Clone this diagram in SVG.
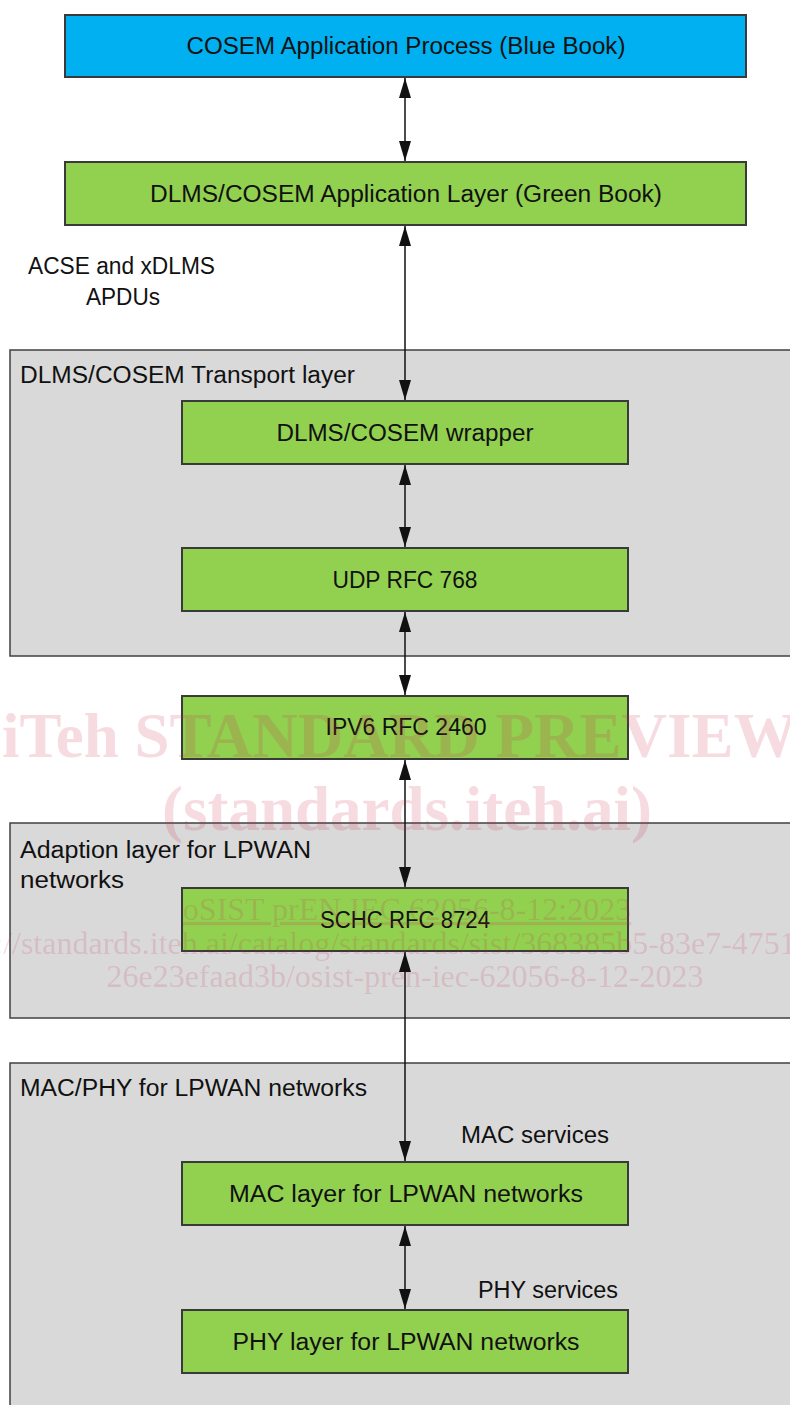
<svg xmlns="http://www.w3.org/2000/svg" width="790" height="1405" viewBox="0 0 790 1405">
<style>
.t{font-family:"Liberation Sans",Arial,sans-serif;font-size:23px;fill:#111}
.c{text-anchor:middle}
.blue{fill:#00B0F0;stroke:#3a3a3a;stroke-width:2}
.green{fill:#92D050;stroke:#3a3a3a;stroke-width:2}
.grey{fill:#D9D9D9;stroke:#404040;stroke-width:1.5}
.conn{stroke:#111;stroke-width:1.5;fill:none;marker-start:url(#ah);marker-end:url(#ah)}
.wm{font-family:"Liberation Serif","Times New Roman",serif;fill:#C82850;fill-opacity:0.17}
.wmb{font-weight:bold;font-size:63px}
.wms{font-size:32px}
</style>
<defs>
<marker id="ah" markerUnits="userSpaceOnUse" markerWidth="20" markerHeight="12" refX="20" refY="6" orient="auto-start-reverse">
<path d="M0,0 L20,6 L0,12 z" fill="#111"/>
</marker>
</defs>
<rect width="790" height="1405" fill="#fff"/>

<g id="transport-group">
<rect class="grey" x="10" y="350" width="800" height="306"/>
<text class="t" x="20" y="383" textLength="335" lengthAdjust="spacingAndGlyphs">DLMS/COSEM Transport layer</text>
</g>
<g id="adaption-group">
<rect class="grey" x="10" y="823" width="800" height="195"/>
<text class="t" x="20" y="858" textLength="291" lengthAdjust="spacingAndGlyphs">Adaption layer for LPWAN</text>
<text class="t" x="20" y="888" textLength="104" lengthAdjust="spacingAndGlyphs">networks</text>
</g>
<g id="macphy-group">
<rect class="grey" x="10" y="1063" width="800" height="360"/>
<text class="t" x="20" y="1096" textLength="347" lengthAdjust="spacingAndGlyphs">MAC/PHY for LPWAN networks</text>
</g>

<g id="cosem-ap">
<rect class="blue" x="65" y="15" width="681" height="62"/>
<text class="t c" x="406" y="54" textLength="439" lengthAdjust="spacingAndGlyphs">COSEM Application Process (Blue Book)</text>
</g>
<g id="dlms-al">
<rect class="green" x="65" y="162" width="681" height="63"/>
<text class="t c" x="406" y="202" textLength="512" lengthAdjust="spacingAndGlyphs">DLMS/COSEM Application Layer (Green Book)</text>
</g>
<g id="wrapper">
<rect class="green" x="182" y="401" width="446" height="63"/>
<text class="t c" x="405" y="441" textLength="257" lengthAdjust="spacingAndGlyphs">DLMS/COSEM wrapper</text>
</g>
<g id="udp">
<rect class="green" x="182" y="548" width="446" height="63"/>
<text class="t c" x="405" y="588" textLength="145" lengthAdjust="spacingAndGlyphs">UDP RFC 768</text>
</g>
<g id="ipv6">
<rect class="green" x="182" y="696" width="446" height="63"/>
<text class="t c" x="406" y="735" textLength="161" lengthAdjust="spacingAndGlyphs">IPV6 RFC 2460</text>
</g>
<g id="schc">
<rect class="green" x="182" y="888" width="446" height="63"/>
<text class="t c" x="405" y="928" textLength="170" lengthAdjust="spacingAndGlyphs">SCHC RFC 8724</text>
</g>
<g id="mac">
<rect class="green" x="182" y="1162" width="446" height="63"/>
<text class="t c" x="406" y="1202" textLength="354" lengthAdjust="spacingAndGlyphs">MAC layer for LPWAN networks</text>
</g>
<g id="phy">
<rect class="green" x="182" y="1310" width="446" height="63"/>
<text class="t c" x="406" y="1350" textLength="347" lengthAdjust="spacingAndGlyphs">PHY layer for LPWAN networks</text>
</g>

<g id="connectors">
<line class="conn" x1="405" y1="78" x2="405" y2="161"/>
<line class="conn" x1="405" y1="226" x2="405" y2="400"/>
<line class="conn" x1="405" y1="465" x2="405" y2="547"/>
<line class="conn" x1="405" y1="612" x2="405" y2="695"/>
<line class="conn" x1="405" y1="760" x2="405" y2="887"/>
<line class="conn" x1="405" y1="952" x2="405" y2="1161"/>
<line class="conn" x1="405" y1="1226" x2="405" y2="1309"/>
</g>

<g id="labels">
<text class="t" x="28" y="274" textLength="187" lengthAdjust="spacingAndGlyphs">ACSE and xDLMS</text>
<text class="t" x="86" y="305" textLength="74" lengthAdjust="spacingAndGlyphs">APDUs</text>
<text class="t" x="461" y="1143" textLength="148" lengthAdjust="spacingAndGlyphs">MAC services</text>
<text class="t" x="478" y="1298" textLength="140" lengthAdjust="spacingAndGlyphs">PHY services</text>
</g>

<g id="watermark">
<text class="wm wmb" x="2" y="757">iTeh STANDARD PREVIEW</text>
<text class="wm wmb" x="407" y="830" text-anchor="middle">(standards.iteh.ai)</text>
<text class="wm wms" x="407" y="920" text-anchor="middle" text-decoration="underline">oSIST prEN IEC 62056-8-12:2023</text>
<text class="wm wms" x="-68" y="954">https://standards.iteh.ai/catalog/standards/sist/368385b5-83e7-4751-</text>
<text class="wm wms" x="405" y="987" text-anchor="middle">26e23efaad3b/osist-pren-iec-62056-8-12-2023</text>
</g>
</svg>
